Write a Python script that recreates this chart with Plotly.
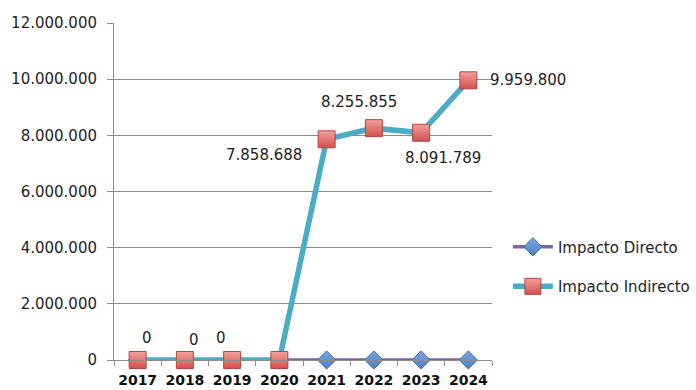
import plotly.graph_objects as go

years = ["2017", "2018", "2019", "2020", "2021", "2022", "2023", "2024"]
impacto_directo = [0, 0, 0, 0, 0, 0, 0, 0]
impacto_indirecto = [0, 0, 0, 0, 7858688, 8255855, 8091789, 9959800]
show_label = [True, True, True, False, True, True, True, True]
y_ticks = [0, 2000000, 4000000, 6000000, 8000000, 10000000, 12000000]

# label placement around each point: (anchor, x shift px, y shift px)
label_offsets = [("center", 9, 22), ("center", 9, 20), ("center", -11, 22), ("center", 0, 0),
                 ("right", -23, -16), ("center", -15, 26), ("center", 22, -25), ("left", 20, 0)]


def fmt(v):
    return f"{v:,}".replace(",", ".")


font_family = "DejaVu Sans"
text_color = "#1e1e1e"

fig = go.Figure()
fig.add_trace(go.Scatter(
    x=years, y=impacto_directo, name="Impacto Directo",
    mode="lines+markers", legendgroup="a", cliponaxis=False,
    line=dict(color="#8064A2", width=3.5),
    marker=dict(symbol="diamond", size=14, color="#7FA6DE",
                gradient=dict(type="vertical", color="#4A7EC4"),
                line=dict(color="#3E6CA8", width=1)),
))
fig.add_trace(go.Scatter(
    x=years, y=impacto_indirecto, name="Impacto Indirecto",
    mode="lines+markers", legendgroup="b", cliponaxis=False,
    line=dict(color="#4BACC6", width=5.5),
    marker=dict(symbol="square", size=17, color="#F3A09E",
                gradient=dict(type="vertical", color="#D2504D"),
                line=dict(color="#B34543", width=1)),
))

annotations = []
for i, (v, show, (anchor, dx, dy)) in enumerate(zip(impacto_indirecto, show_label, label_offsets)):
    if not show:
        continue
    annotations.append(dict(
        x=i, y=v, xref="x", yref="y", text=fmt(v), showarrow=False,
        xanchor=anchor, yanchor="middle", xshift=dx, yshift=dy,
        font=dict(family=font_family, size=15, color=text_color),
    ))

fig.update_layout(
    width=696, height=390,
    margin=dict(l=114, r=204, t=23, b=30, autoexpand=False),
    paper_bgcolor="white", plot_bgcolor="white",
    separators=",.",
    font=dict(family=font_family, size=15, color=text_color),
    showlegend=True,
    annotations=annotations,
    legend=dict(x=1.042, xanchor="left", y=0.384, yanchor="top",
                tracegroupgap=17, itemwidth=40,
                font=dict(family=font_family, size=15, color=text_color),
                bgcolor="rgba(0,0,0,0)"),
)
fig.update_xaxes(
    type="category", range=[-0.5, 7.5], tickangle=0, automargin=False,
    showline=True, linecolor="#8C8C8C", linewidth=1,
    ticks="outside", tickson="boundaries", ticklen=5, tickcolor="#8C8C8C",
    ticklabelstandoff=7,
    showgrid=False, zeroline=False,
    tickfont=dict(family=font_family, size=14, color="#111111", weight="bold"),
)
fig.update_yaxes(
    range=[0, 12000000], tickvals=y_ticks, tickformat=",d", automargin=False,
    showline=True, linecolor="#8C8C8C", linewidth=1,
    ticks="outside", ticklen=6, tickcolor="#8C8C8C",
    ticklabelstandoff=7,
    showgrid=True, gridcolor="#8C8C8C", gridwidth=1, zeroline=False,
    tickfont=dict(family=font_family, size=15, color=text_color),
)

fig.write_html("out.html")
